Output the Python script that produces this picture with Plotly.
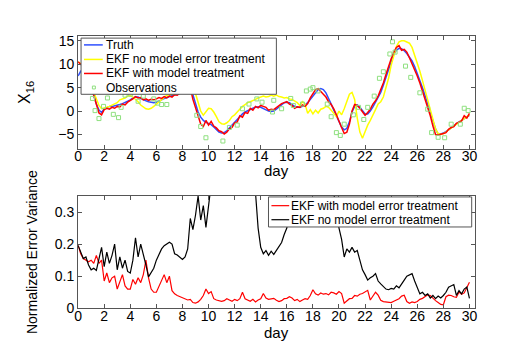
import numpy as np
import plotly.graph_objects as go

# ---------------- data ----------------
DAYS = np.round(np.arange(0, 30.01, 0.2), 1)

TRUTH = [
    7.5, 8.5, 9.0, 8.5, 7.0, 5.0, 3.2, 1.5, 0.2, -0.3,
    0.5, 0.8, 1.0, 1.0, 1.1, 1.2, 1.4, 1.6, 1.8, 2.1,
    2.4, 2.8, 3.0, 3.0, 2.7, 2.4, 2.2, 2.0, 1.9, 1.8,
    1.9, 2.1, 2.4, 2.7, 2.9, 3.0, 3.2, 3.4, 3.6, 3.9,
    4.5, 5.5, 6.0, 5.5, 3.5, 1.5, -0.2, -1.3, -2.0, -2.4,
    -2.6, -2.9, -3.4, -4.0, -4.5, -4.7, -4.6, -4.2, -3.6, -2.9,
    -2.3, -1.7, -1.1, -0.6, -0.2, 0.1, 0.4, 0.6, 0.8, 0.9,
    0.8, 0.5, 0.2, 0.0, -0.1, 0.0, 0.4, 0.9, 1.4, 1.8,
    1.9, 1.8, 1.4, 1.0, 0.8, 0.8, 1.0, 1.3, 1.8, 2.5,
    3.2, 4.0, 4.6, 4.8, 4.6, 3.9, 2.8, 1.5, 0.2, -1.0,
    -2.3, -3.4, -4.0, -3.7, -2.3, -0.2, 1.0, 1.3, 0.8, 0.0,
    -0.6, -0.6, 0.0, 0.9, 1.9, 2.9, 4.0, 5.5, 7.2, 9.0,
    10.8, 12.2, 13.0, 13.4, 13.3, 12.9, 12.3, 11.6, 10.7, 9.5,
    8.1, 6.7, 5.0, 3.3, 1.6, 0.1, -2.0, -3.8, -4.9, -4.9,
    -4.7, -4.4, -4.0, -3.6, -3.1, -2.6, -2.3, -2.0, -1.6, -1.2,
    -0.9,
]

EKF_NO_MODEL = [
    10.5, 10.2, 9.8, 9.0, 7.5, 5.5, 4.0, 2.5, 1.2, 0.5,
    0.6, 0.8, 1.0, 1.3, 1.5, 1.8, 2.4, 2.6, 2.8, 3.2,
    3.3, 3.0, 2.6, 2.0, 1.3, 0.8, 0.5, 0.4, 0.6, 1.0,
    1.5, 2.0, 2.5, 3.0, 3.4, 3.5, 3.6, 3.7, 3.8, 4.2,
    5.0, 6.5, 8.0, 7.5, 5.5, 3.5, 1.5, 0.0, -0.9, 0.0,
    0.6, 0.5, -0.2, -1.2, -2.3, -2.7, -2.8, -2.5, -2.0, -1.2,
    -0.8, -0.2, 0.5, 1.0, 1.4, 1.8, 2.0, 2.2, 2.5, 2.8,
    3.0, 3.2, 3.0, 3.1, 3.4, 3.2, 3.4, 3.1, 3.0, 2.8,
    2.9, 2.6, 2.5, 2.2, 1.8, 1.2, 2.0, 1.5, -0.5, 0.3,
    -0.6, 0.2, -0.4, 0.4, 0.6, 1.0, 0.8, 0.2, -0.4, -1.2,
    0.0, -0.8, 0.5, 2.2, 3.6, 4.0, 2.5, -1.5, -4.5, -5.8,
    -4.2, -3.0, -2.0, -1.0, 0.3, 1.5, 2.0, 3.0, 4.8, 7.0,
    9.8, 12.0, 13.8, 14.8, 15.0, 15.0, 14.8, 14.5, 13.6, 12.0,
    10.5, 8.5, 6.5, 4.5, 2.5, 0.5, -1.8, -3.8, -4.8, -5.0,
    -4.8, -4.5, -4.0, -3.6, -3.2, -2.7, -2.4, -2.0, -1.6, -1.2,
    -0.8,
]

EKF_WITH_MODEL = [
    10.5, 10.0, 9.5, 8.5, 7.0, 5.2, 3.4, 1.2, -0.4, -0.8,
    0.3, 0.6, 0.4, 0.8, 0.6, 1.0, 0.9, 1.5, 1.3, 1.9,
    2.2, 2.6, 3.1, 2.8, 2.9, 2.4, 2.6, 2.3, 2.5, 2.4,
    2.6, 2.9, 2.7, 3.1, 2.8, 3.2, 3.0, 3.5, 3.4, 3.8,
    4.4, 5.5, 6.0, 5.0, 2.5, 0.5, -1.0, -2.8, -3.3, -2.0,
    -3.0, -2.2, -3.2, -3.6, -4.2, -4.4, -4.9, -4.5, -3.8, -3.5,
    -2.5, -2.3, -1.0, -1.3, -0.3, -0.5, 0.6, 0.2, 1.0, 0.7,
    1.2, 1.0, 0.8, 0.2, 0.4, 0.3, 0.8, 1.2, 1.6, 1.8,
    2.0, 1.5, 1.2, 0.6, 0.9, 0.8, 1.3, 1.0, 1.6, 2.8,
    3.8, 4.6, 4.8, 4.3, 3.6, 3.0, 2.0, 1.4, 0.5, -0.8,
    -2.0, -3.5, -4.8, -4.5, -2.8, 0.0, 1.4, 1.2, 0.6, -0.3,
    -0.9, -0.3, 0.4, 1.5, 2.2, 3.2, 4.5, 6.0, 7.8, 9.6,
    11.2, 12.6, 13.6, 14.0, 13.0, 13.2, 12.6, 11.4, 10.2, 9.0,
    7.5, 6.0, 4.2, 2.8, 0.8, -1.0, -3.2, -5.0, -5.1, -5.0,
    -4.8, -4.6, -3.9, -3.5, -3.3, -2.6, -2.4, -2.1, -1.0, -1.5,
    -0.5,
]

OBS_DAY = [1.1, 1.3, 1.6, 1.95, 2.25, 2.7, 3.1, 3.3, 3.6, 4.0, 4.6, 5.0,
           5.8, 6.1, 6.4, 6.8, 9.1, 9.4, 9.8, 11.1, 11.6, 12.2, 12.6, 13.1,
           13.7, 14.1, 14.9, 15.0, 15.6, 16.3, 16.5, 17.2, 17.5, 17.8, 18.0,
           18.4, 19.1, 19.4, 19.8, 20.1, 20.4, 21.1, 21.5, 21.9, 22.2, 22.7,
           23.1, 23.4, 23.9, 24.1, 24.3, 25.1, 25.5, 26.2, 26.8, 27.1, 27.6,
           28.1, 28.6, 29.3, 29.6, 29.9]
OBS_VAL = [2.7, 0.1, -1.6, 1.0, 2.8, -0.7, -1.4, 0.8, 3.4, 3.6, 2.1, 3.2,
           2.6, 1.7, 1.4, 1.4, -0.9, -3.3, -5.7, -6.4, -3.5, -3.0, 0.5, 1.5,
           2.6, 1.9, -0.2, 2.3, 0.5, 2.7, 1.2, 1.5, 4.3, 4.7, 5.0,
           4.3, 1.5, -1.2, -4.6, -5.2, -2.8, -0.8, 0.8, -1.8, 0.8, 3.2,
           7.0, 8.4, 12.2, 14.8, 12.6, 9.6, 7.2, 3.9, 0.4, -4.6, -5.6,
           -5.7, -2.8, -2.8, 0.6, 0.1]

VAR_WITH_MODEL = [
    0.196, 0.170, 0.155, 0.150, 0.145, 0.150, 0.140, 0.165, 0.140, 0.150,
    0.085, 0.110, 0.080, 0.095, 0.100, 0.060, 0.085, 0.105, 0.070, 0.060,
    0.060, 0.090, 0.075, 0.095, 0.080, 0.105, 0.150, 0.095, 0.060, 0.050,
    0.050, 0.070, 0.085, 0.105, 0.080, 0.100, 0.055, 0.045, 0.040, 0.036,
    0.032, 0.030, 0.026, 0.028, 0.018, 0.016, 0.020, 0.028, 0.040, 0.060,
    0.046, 0.052, 0.030, 0.026, 0.024, 0.022, 0.024, 0.030, 0.026, 0.022,
    0.028, 0.024, 0.030, 0.050, 0.030, 0.025, 0.022, 0.028, 0.020, 0.026,
    0.030, 0.046, 0.032, 0.028, 0.030, 0.031, 0.025, 0.021, 0.024, 0.030,
    0.031, 0.036, 0.032, 0.024, 0.028, 0.021, 0.026, 0.030, 0.028, 0.040,
    0.058, 0.045, 0.041, 0.048, 0.044, 0.046, 0.042, 0.050, 0.048, 0.044,
    0.052, 0.046, 0.016, 0.024, 0.030, 0.031, 0.040, 0.038, 0.044, 0.046,
    0.050, 0.056, 0.026, 0.040, 0.050, 0.041, 0.025, 0.021, 0.020, 0.018,
    0.018, 0.022, 0.026, 0.030, 0.038, 0.041, 0.021, 0.016, 0.020, 0.018,
    0.021, 0.028, 0.031, 0.036, 0.042, 0.040, 0.031, 0.024, 0.018, 0.012,
    0.011, 0.036, 0.041, 0.040, 0.036, 0.034, 0.051, 0.044, 0.048, 0.066,
    0.081,
]

VAR_NO_MODEL = [
    0.196, 0.175, 0.155, 0.160, 0.135, 0.120, 0.125, 0.118, 0.150, 0.190,
    0.130, 0.175, 0.140, 0.165, 0.200, 0.120, 0.160, 0.125, 0.150, 0.115,
    0.110, 0.150, 0.220, 0.160, 0.200, 0.170, 0.135, 0.098, 0.110, 0.125,
    0.150, 0.170, 0.185, 0.195, 0.200, 0.206, 0.200, 0.170, 0.166, 0.160,
    0.152, 0.160, 0.185, 0.280, 0.245, 0.290, 0.350, 0.275, 0.320, 0.252,
    0.318, 0.400, 0.500, 0.580, 0.640, 0.700, 0.720, 0.700, 0.680, 0.650,
    0.620, 0.600, 0.580, 0.540, 0.500, 0.470, 0.440, 0.400, 0.360, 0.250,
    0.190, 0.170, 0.180, 0.165, 0.178, 0.168, 0.180, 0.195, 0.205, 0.230,
    0.250, 0.300, 0.360, 0.420, 0.480, 0.520, 0.560, 0.580, 0.600, 0.600,
    0.590, 0.570, 0.540, 0.500, 0.470, 0.440, 0.410, 0.380, 0.360, 0.300,
    0.250, 0.215, 0.160, 0.185, 0.175, 0.190, 0.175, 0.180, 0.150, 0.120,
    0.105, 0.088, 0.095, 0.100, 0.108, 0.085, 0.076, 0.068, 0.060, 0.058,
    0.062, 0.060, 0.070, 0.064, 0.078, 0.088, 0.100, 0.105, 0.108, 0.085,
    0.066, 0.045, 0.050, 0.040, 0.045, 0.032, 0.040, 0.030, 0.038, 0.032,
    0.040, 0.050, 0.066, 0.070, 0.074, 0.040, 0.055, 0.045, 0.060, 0.066,
    0.031,
]

X_TICKS = list(range(0, 31, 2))
TOP_Y_TICKS = [-5, 0, 5, 10, 15]
BOT_Y_TICKS = [0, 0.1, 0.2, 0.3]
BOT_Y_TICKTEXT = ["0", "0.1", "0.2", "0.3"]

TOP_NAMES = ["Truth", "EKF no model error treatment", "EKF with model treatment", "Observations"]
BOT_NAMES = ["EKF with model error treatment", "EKF no model error treatment"]
X_TITLE = "day"

# ---------------- styles ----------------
W, H = 518, 349
FONT = "Liberation Sans, Arial, Helvetica, sans-serif"
BLUE = "#3050ff"
YELLOW = "#ffff00"
RED = "#ff0000"
GREEN = "#8fe07f"
BLACK = "#000000"
AX = "#555555"


def px(x):
    return x / W


def py(y):
    return 1 - y / H


fig = go.Figure()

fig.add_trace(go.Scatter(x=DAYS, y=TRUTH, mode="lines", line=dict(color=BLUE, width=1.5),
                         name=TOP_NAMES[0], xaxis="x", yaxis="y"))
fig.add_trace(go.Scatter(x=DAYS, y=EKF_NO_MODEL, mode="lines", line=dict(color=YELLOW, width=1.5),
                         name=TOP_NAMES[1], xaxis="x", yaxis="y"))
fig.add_trace(go.Scatter(x=DAYS, y=EKF_WITH_MODEL, mode="lines", line=dict(color=RED, width=1.5),
                         name=TOP_NAMES[2], xaxis="x", yaxis="y"))
fig.add_trace(go.Scatter(x=OBS_DAY, y=OBS_VAL, mode="markers",
                         marker=dict(symbol="square-open", size=4, color=GREEN, line=dict(width=1)),
                         name=TOP_NAMES[3], xaxis="x", yaxis="y"))

fig.add_trace(go.Scatter(x=DAYS, y=VAR_WITH_MODEL, mode="lines", line=dict(color=RED, width=1.2),
                         name=BOT_NAMES[0], xaxis="x2", yaxis="y2"))
fig.add_trace(go.Scatter(x=DAYS, y=VAR_NO_MODEL, mode="lines", line=dict(color=BLACK, width=1.2),
                         name=BOT_NAMES[1], xaxis="x2", yaxis="y2"))

axis_common = dict(showline=True, mirror="ticks", linecolor=AX, linewidth=1,
                   ticks="inside", ticklen=4, tickcolor=AX, showgrid=False, zeroline=False,
                   tickfont=dict(family=FONT, size=14, color="black"))
xaxis_common = dict(axis_common, ticklabelstandoff=-5)

fig.update_layout(
    width=W, height=H,
    margin=dict(l=0, r=0, t=0, b=0),
    paper_bgcolor="white", plot_bgcolor="white",
    showlegend=False,
    xaxis=dict(domain=[px(67), px(469)], range=[0, 30.4], tickvals=X_TICKS, anchor="y",
               **xaxis_common),
    yaxis=dict(domain=[py(142), py(26)], range=[-8, 16], tickvals=TOP_Y_TICKS, anchor="x",
               title=dict(text="X<sub>16</sub>", font=dict(family=FONT, size=16, color="black"), standoff=23),
               **axis_common),
    xaxis2=dict(domain=[px(67), px(469)], range=[0, 30.4], tickvals=X_TICKS, anchor="y2",
                **xaxis_common),
    yaxis2=dict(domain=[py(307), py(191)], range=[0, 0.35], tickvals=BOT_Y_TICKS,
                ticktext=BOT_Y_TICKTEXT, anchor="x2",
                title=dict(text="Normalized Error Variance", font=dict(family=FONT, size=14, color="black"),
                           standoff=13),
                **axis_common),
)

shapes = []
annotations = []

# x axis titles ("day") placed close under the tick labels
for ty in (165, 332):
    annotations.append(dict(xref="paper", yref="paper", x=px(268), y=py(ty), text=X_TITLE, showarrow=False,
                            xanchor="center", yanchor="middle",
                            font=dict(family=FONT, size=15, color="black")))

# ---------------- legends (drawn as boxes over the plot) ----------------
LEG_FONT = dict(family=FONT, size=12, color="black")

# top legend
shapes.append(dict(type="rect", xref="paper", yref="paper", x0=px(70), x1=px(268), y0=py(86), y1=py(28),
                   fillcolor="white", line=dict(color=AX, width=1), layer="above"))
top_rows = [35, 50, 64.5, 79]
top_colors = [BLUE, YELLOW, RED]
for i, (yy, name) in enumerate(zip(top_rows, TOP_NAMES)):
    if i < 3:
        shapes.append(dict(type="line", xref="paper", yref="paper", x0=px(73), x1=px(92), y0=py(yy), y1=py(yy),
                           line=dict(color=top_colors[i], width=1.5), layer="above"))
    else:
        shapes.append(dict(type="rect", xref="paper", yref="paper", x0=px(81.5), x1=px(84.5),
                           y0=py(yy + 1.5), y1=py(yy - 1.5), line=dict(color=GREEN, width=1),
                           fillcolor="rgba(0,0,0,0)", layer="above"))
    annotations.append(dict(xref="paper", yref="paper", x=px(93), y=py(yy), text=name, showarrow=False,
                            xanchor="left", yanchor="middle", font=LEG_FONT))

# bottom legend
shapes.append(dict(type="rect", xref="paper", yref="paper", x0=px(260), x1=px(466), y0=py(223), y1=py(192),
                   fillcolor="white", line=dict(color=AX, width=1), layer="above"))
bot_rows = [201, 215.5]
bot_colors = [RED, BLACK]
for yy, name, col in zip(bot_rows, BOT_NAMES, bot_colors):
    shapes.append(dict(type="line", xref="paper", yref="paper", x0=px(263), x1=px(281), y0=py(yy), y1=py(yy),
                       line=dict(color=col, width=1.2), layer="above"))
    annotations.append(dict(xref="paper", yref="paper", x=px(281), y=py(yy), text=name, showarrow=False,
                            xanchor="left", yanchor="middle", font=LEG_FONT))

fig.update_layout(shapes=shapes, annotations=annotations)

fig.write_html("out.html")
